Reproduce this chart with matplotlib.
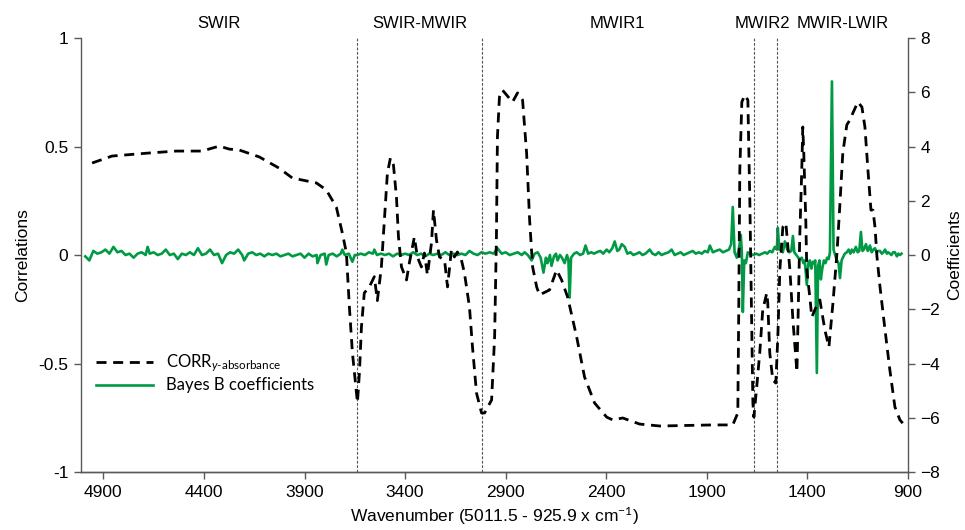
import matplotlib
matplotlib.use("Agg")
import matplotlib.pyplot as plt
import matplotlib.transforms as mtransforms
import numpy as np

plt.rcParams["font.family"] = ["Liberation Sans", "DejaVu Sans"]
plt.rcParams["mathtext.fontset"] = "custom"
plt.rcParams["mathtext.rm"] = "Lato"
plt.rcParams["mathtext.it"] = "Lato:italic"

# Correlation between trait and absorbance (left axis)
corr_wn = [4956, 4857, 4673, 4538, 4409, 4324, 4274, 4225, 4125, 4026, 3961, 3841,
           3792, 3742, 3712, 3692, 3677, 3662, 3642, 3637, 3627, 3617, 3603, 3578,
           3553, 3538, 3518, 3503, 3488, 3473, 3458, 3443, 3433, 3418, 3393, 3379,
           3354, 3339, 3319, 3304, 3289, 3269, 3259, 3244, 3229, 3204, 3189, 3170,
           3155, 3140, 3120, 3105, 3080, 3065, 3045, 3020, 3005, 2970, 2955, 2946,
           2941, 2931, 2916, 2866, 2841, 2816, 2796, 2781, 2766, 2746, 2732, 2682,
           2647, 2622, 2592, 2547, 2508, 2458, 2398, 2368, 2318, 2234, 2134, 1871,
           1771, 1746, 1741, 1736, 1726, 1711, 1696, 1686, 1676, 1671, 1666, 1652,
           1637, 1622, 1602, 1597, 1587, 1572, 1557, 1547, 1537, 1522, 1507, 1487,
           1472, 1452, 1438, 1428, 1423, 1418, 1408, 1403, 1388, 1378, 1363, 1338,
           1313, 1293, 1273, 1253, 1238, 1224, 1204, 1189, 1174, 1149, 1129, 1114,
           1099, 1084, 1074, 1064, 1054, 1039, 1014, 990, 965, 940, 926]
corr_val = [0.424, 0.456, 0.470, 0.479, 0.479, 0.502, 0.488, 0.484, 0.452, 0.400, 0.355, 0.332,
            0.300, 0.221, 0.101, 0.010, -0.240, -0.450, -0.636, -0.680, -0.540, -0.330, -0.175, -0.147,
            -0.100, -0.210, -0.055, 0.160, 0.378, 0.447, 0.415, 0.267, 0.083, -0.055, -0.115, -0.037,
            0.083, -0.009, -0.055, 0.009, -0.092, 0.055, 0.207, 0.069, -0.009, -0.023, -0.147, 0.023,
            -0.009, 0.014, -0.023, -0.083, -0.240, -0.424, -0.636, -0.728, -0.728, -0.668, -0.378, 0.083,
            0.544, 0.728, 0.760, 0.705, 0.747, 0.714, 0.470, 0.161, -0.055, -0.147, -0.184, -0.161,
            -0.069, -0.115, -0.194, -0.378, -0.562, -0.682, -0.747, -0.760, -0.751, -0.779, -0.788, -0.783,
            -0.783, -0.728, -0.221, 0.392, 0.705, 0.737, 0.714, 0.240, -0.378, -0.682, -0.747, -0.608,
            -0.452, -0.253, -0.175, -0.221, -0.452, -0.576, -0.590, -0.378, -0.069, 0.129, 0.147, -0.069,
            -0.300, -0.539, 0.083, 0.392, 0.590, 0.470, 0.161, -0.069, -0.194, -0.286, -0.253, -0.207,
            -0.346, -0.424, -0.221, 0.009, 0.240, 0.470, 0.600, 0.622, 0.654, 0.705, 0.682, 0.590,
            0.392, 0.207, 0.207, 0.129, -0.009, -0.147, -0.346, -0.530, -0.700, -0.760, -0.775]

# Bayes B regression coefficients (right axis)
coef_wn = [4990, 4970, 4950, 4930, 4910, 4890, 4870, 4850, 4830, 4810, 4790, 4770,
           4750, 4730, 4710, 4690, 4680, 4670, 4650, 4630, 4610, 4590, 4570, 4550,
           4530, 4510, 4490, 4470, 4450, 4430, 4410, 4390, 4370, 4350, 4330, 4310,
           4290, 4270, 4250, 4230, 4210, 4200, 4180, 4160, 4140, 4120, 4100, 4080,
           4060, 4040, 4020, 4000, 3980, 3960, 3940, 3920, 3900, 3880, 3860, 3840,
           3836, 3820, 3800, 3792, 3780, 3760, 3740, 3720, 3712, 3700, 3680, 3662,
           3650, 3640, 3620, 3600, 3580, 3560, 3553, 3540, 3520, 3500, 3480, 3460,
           3440, 3420, 3400, 3380, 3360, 3340, 3320, 3300, 3280, 3260, 3240, 3220,
           3200, 3180, 3160, 3140, 3120, 3100, 3080, 3060, 3040, 3020, 3000, 2980,
           2960, 2941, 2920, 2900, 2880, 2860, 2840, 2820, 2806, 2790, 2771, 2756,
           2741, 2726, 2712, 2700, 2692, 2680, 2672, 2660, 2650, 2642, 2630, 2620,
           2607, 2595, 2588, 2582, 2575, 2560, 2547, 2530, 2515, 2503, 2490, 2475,
           2460, 2448, 2430, 2415, 2398, 2385, 2370, 2358, 2345, 2335, 2323, 2308,
           2295, 2280, 2265, 2249, 2235, 2220, 2205, 2184, 2170, 2155, 2140, 2125,
           2110, 2090, 2075, 2060, 2045, 2030, 2015, 2000, 1985, 1970, 1955, 1940,
           1925, 1910, 1895, 1885, 1870, 1855, 1836, 1820, 1805, 1790, 1779, 1771,
           1762, 1751, 1741, 1731, 1726, 1721, 1714, 1706, 1696, 1686, 1670, 1655,
           1640, 1625, 1610, 1600, 1587, 1575, 1562, 1552, 1547, 1540, 1532, 1522,
           1512, 1500, 1490, 1480, 1472, 1465, 1455, 1445, 1438, 1428, 1420, 1413,
           1403, 1395, 1388, 1380, 1373, 1366, 1361, 1353, 1347, 1340, 1333, 1326,
           1318, 1310, 1302, 1294, 1288, 1278, 1270, 1262, 1253, 1245, 1238, 1230,
           1224, 1214, 1204, 1195, 1186, 1179, 1170, 1159, 1150, 1142, 1134, 1126,
           1119, 1109, 1100, 1095, 1089, 1080, 1072, 1064, 1055, 1048, 1039, 1030,
           1022, 1014, 1005, 998, 990, 982, 974, 965, 955, 948, 940, 932]
coef_val = [-0.05, -0.20, 0.15, 0.05, 0.10, 0.20, 0.05, 0.30, 0.10, 0.15, 0.00, 0.05,
            -0.10, 0.05, 0.10, 0.00, 0.30, 0.05, 0.10, 0.00, 0.05, 0.20, 0.00, 0.05,
            -0.15, 0.05, 0.00, 0.10, 0.00, 0.25, 0.00, 0.05, 0.20, 0.00, 0.05, -0.30,
            0.00, 0.10, 0.05, 0.20, 0.00, -0.20, 0.05, 0.10, 0.00, 0.05, -0.05, 0.05,
            0.00, 0.05, -0.05, 0.00, 0.05, -0.05, 0.00, 0.05, -0.10, 0.05, -0.05, 0.00,
            -0.30, 0.00, 0.05, -0.35, 0.00, 0.05, -0.05, 0.05, 0.20, 0.00, 0.05, -0.25,
            0.00, 0.00, 0.05, 0.00, 0.10, 0.05, 0.20, 0.00, 0.05, 0.00, 0.05, -0.05,
            0.05, 0.00, 0.05, 0.00, 0.10, 0.00, 0.05, -0.05, 0.05, 0.00, 0.05, 0.00,
            0.10, 0.00, 0.05, 0.00, 0.05, 0.00, 0.15, 0.05, 0.00, 0.10, 0.05, 0.10,
            0.05, 0.25, 0.05, 0.10, 0.00, 0.05, 0.10, 0.00, 0.10, 0.00, -0.20, 0.05,
            0.10, -0.10, -0.65, -0.10, -0.30, 0.00, -0.40, -0.05, 0.05, -0.20, 0.00, -0.10,
            -0.30, 0.00, -0.20, -1.57, -0.10, 0.05, 0.10, 0.00, 0.05, 0.35, 0.05, 0.10,
            0.05, 0.10, 0.15, 0.05, 0.20, 0.10, 0.25, 0.50, 0.15, 0.20, 0.40, 0.30,
            0.05, 0.10, 0.00, 0.05, 0.10, 0.00, 0.05, 0.20, 0.05, 0.00, 0.10, 0.00,
            0.05, 0.10, 0.20, 0.00, 0.05, 0.10, 0.00, 0.05, 0.10, 0.15, 0.05, 0.10,
            0.05, 0.15, 0.10, 0.35, 0.10, 0.15, 0.20, 0.10, 0.15, 0.20, 0.40, 1.77,
            0.10, -0.10, 0.20, 0.74, 0.10, -2.10, -0.20, -0.30, 0.10, 0.05, 0.00, 0.05,
            0.00, 0.05, 0.10, 0.05, 0.15, 0.10, 0.30, 0.20, 1.00, 0.20, 0.30, 0.10,
            0.50, 0.20, 0.10, 0.15, 0.70, 0.10, 0.00, -0.10, -0.15, -0.10, -0.30, -0.20,
            -1.10, -0.30, -0.20, -0.50, -0.25, -0.30, -0.20, -4.35, -0.40, -0.20, -0.90, -0.50,
            -0.20, -0.30, -0.10, -0.15, 0.10, 6.40, 0.20, 0.00, -0.20, -0.30, -0.85, -0.20,
            -0.10, 0.05, 0.10, 0.20, 0.05, 0.20, 0.10, 0.30, 0.10, 0.15, 0.85, 0.15,
            0.20, 0.40, 0.15, 0.20, 0.35, 0.10, 0.20, 0.25, 0.10, 0.15, 0.15, 0.05,
            0.10, 0.20, 0.05, 0.10, 0.05, 0.00, 0.10, 0.10, -0.05, 0.05, 0.00, 0.05]

# Spectral region boundaries and labels
boundaries = [3640, 3017, 1664, 1550]
region_names = ["SWIR", "SWIR-MWIR", "MWIR1", "MWIR2", "MWIR-LWIR"]
region_centers = [4324, 3329, 2343, 1622, 1223]

x_ticks = [4900, 4400, 3900, 3400, 2900, 2400, 1900, 1400, 900]
corr_ticks = [-1, -0.5, 0, 0.5, 1]
coef_ticks = [-8, -6, -4, -2, 0, 2, 4, 6, 8]

GREEN = "#009A44"
SPINE = "#595959"

fig = plt.figure(figsize=(9.65, 5.30), dpi=100)
ax = fig.add_axes([0.0839, 0.1094, 0.8570, 0.8189])
ax2 = ax.twinx()

ax2.plot(coef_wn, coef_val, color=GREEN, lw=1.9, solid_joinstyle="round",
         label="Bayes B coefficients")
ax.plot(corr_wn, corr_val, color="black", lw=2.0, dashes=(3.6, 2.4),
        label=r"CORR$_{\mathit{y}\text{-absorbance}}$")

for b in boundaries:
    ax.axvline(b, color="#555555", lw=0.8, ls=(0, (2.5, 1.5)), zorder=1)

ax.set_zorder(ax2.get_zorder() + 1)
ax.patch.set_visible(False)

ax.set_xlim(5011.5, 900)
ax.set_ylim(-1, 1)
ax2.set_ylim(-8, 8)

ax.set_xticks(x_ticks)
ax.set_yticks(corr_ticks)
ax.set_yticklabels(["-1", "-0.5", "0", "0.5", "1"])
ax2.set_yticks(coef_ticks)

for a in (ax, ax2):
    a.spines["top"].set_visible(False)
    for s in ("left", "right", "bottom"):
        a.spines[s].set_color(SPINE)
        a.spines[s].set_linewidth(1.0)
    a.tick_params(direction="out", length=5, width=1.0, color=SPINE,
                  labelsize=12.5, labelcolor="black", pad=4)
ax.spines["right"].set_visible(False)
ax2.spines["left"].set_visible(False)

ax.set_xlabel(r"Wavenumber (5011.5 - 925.9 x cm$^{-1}$)", fontsize=12.5, labelpad=4)
ax.set_ylabel("Correlations", fontsize=12.5, labelpad=6)
ax2.set_ylabel("Coefficients", fontsize=12.5, labelpad=5)

trans = mtransforms.blended_transform_factory(ax.transData, fig.transFigure)
for name, c in zip(region_names, region_centers):
    fig.text(c, 0.955, name, transform=trans, ha="center", va="center", fontsize=12)

h1, l1 = ax.get_legend_handles_labels()
h2, l2 = ax2.get_legend_handles_labels()
leg = ax.legend(h1 + h2, l1 + l2, loc="upper left", bbox_to_anchor=(0.0, 0.31),
                frameon=False, handlelength=3.4, handletextpad=0.8, labelspacing=0.2,
                prop={"family": "Lato", "size": 12})

fig.savefig("out.png", dpi=100)
